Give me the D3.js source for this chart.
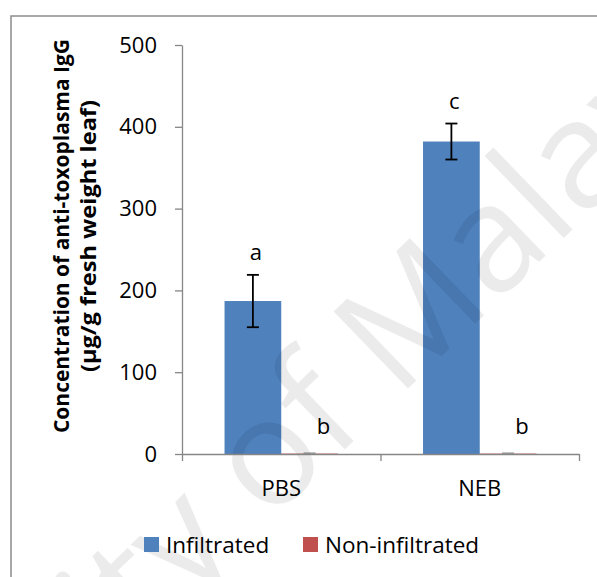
<!DOCTYPE html>
<html>
<head>
<meta charset="utf-8">
<script src="https://cdnjs.cloudflare.com/ajax/libs/d3/7.8.5/d3.min.js"></script>
<style>
  body { margin: 0; background: #fff; }
  svg { display: block; font-family: "Open Sans", sans-serif; }
</style>
</head>
<body>
<div id="chart"></div>
<script>
const categories = ["PBS", "NEB"];
const seriesNames = ["Infiltrated", "Non-infiltrated"];
const infiltrated = [187, 382];
const infiltratedErr = [32, 22];
const nonInfiltrated = [0.5, 0.5];
const nonInfiltratedErr = [0.3, 0.3];
const letters = [["a", "b"], ["c", "b"]];
const yTicks = [0, 100, 200, 300, 400, 500];
const colors = ["#4F81BD", "#C0504D"];

const width = 597, height = 577;
const plot = {left: 182, right: 579, top: 45, bottom: 454};

const svg = d3.select("#chart").append("svg")
    .attr("width", width)
    .attr("height", height);

// outer chart frame (right/bottom run off the picture)
svg.append("rect")
    .attr("x", 11).attr("y", 16)
    .attr("width", 640).attr("height", 640)
    .style("fill", "none")
    .style("stroke", "#8c8c8c")
    .style("stroke-width", 1.5);

const y = d3.scaleLinear().domain([0, 500]).range([plot.bottom, plot.top]);
const x0 = d3.scaleBand().domain(categories).range([plot.left, plot.right]);
const barW = x0.bandwidth() / 3.5;   // excel gap width 150%
const x1 = d3.scaleBand().domain(seriesNames)
    .range([(x0.bandwidth() - 2 * barW) / 2, (x0.bandwidth() + 2 * barW) / 2]);

const rows = categories.map((c, i) => ({
    cat: c,
    vals: [
        {s: seriesNames[0], v: infiltrated[i], e: infiltratedErr[i], l: letters[i][0]},
        {s: seriesNames[1], v: nonInfiltrated[i], e: nonInfiltratedErr[i], l: letters[i][1]}
    ]
}));

// watermark (under the marks' outlines but over the bars, like the scan)
const drawWatermark = () => svg.append("text")
    .attr("transform", "translate(247,544) rotate(-44)")
    .attr("text-anchor", "middle")
    .style("font-size", "150px")
    .style("fill", "#000")
    .style("opacity", 0.075)
    .text("University of Malaya");

// y axis
const yAxis = svg.append("g")
    .attr("transform", `translate(${plot.left},0)`)
    .call(d3.axisLeft(y).tickValues(yTicks).tickSize(7).tickSizeOuter(0).tickPadding(18));
yAxis.selectAll("path, line").style("stroke", "#868686").style("stroke-width", 1.3);
yAxis.selectAll("text").style("font-size", "22px").style("fill", "#000")
    .style("font-family", "Open Sans");

// bars
const groups = svg.append("g").selectAll("g")
    .data(rows).enter().append("g")
    .attr("transform", d => `translate(${x0(d.cat)},0)`);

groups.selectAll("rect")
    .data(d => d.vals).enter().append("rect")
    .attr("x", d => x1(d.s))
    .attr("y", d => y(d.v))
    .attr("width", x1.bandwidth())
    .attr("height", d => y(0) - y(d.v))
    .style("fill", (d, i) => colors[i]);

drawWatermark();

// x axis line + boundary ticks
const xb = d3.scaleLinear().domain([0, categories.length]).range([plot.left, plot.right]);
const xAxis = svg.append("g")
    .attr("transform", `translate(0,${plot.bottom})`)
    .call(d3.axisBottom(xb).tickValues(d3.range(categories.length + 1)).tickFormat("").tickSize(7).tickSizeOuter(0));
xAxis.selectAll("path, line").style("stroke", "#868686").style("stroke-width", 1.3);

const xLabels = svg.append("g")
    .attr("transform", `translate(0,${plot.bottom})`)
    .call(d3.axisBottom(x0).tickSize(0).tickPadding(26));
xLabels.select(".domain").remove();
xLabels.selectAll("text").style("font-size", "22px").style("fill", "#000")
    .style("font-family", "Open Sans");

// error bars
const capW = 6;
const eb = groups.selectAll("g.err")
    .data(d => d.vals).enter().append("g")
    .attr("class", "err")
    .style("stroke", (d, i) => i === 0 ? "#000" : "#999")
    .style("stroke-width", 1.8);
eb.append("line")
    .attr("x1", d => x1(d.s) + x1.bandwidth() / 2)
    .attr("x2", d => x1(d.s) + x1.bandwidth() / 2)
    .attr("y1", d => y(d.v + d.e))
    .attr("y2", d => y(d.v - d.e));
eb.append("line")
    .attr("x1", d => x1(d.s) + x1.bandwidth() / 2 - capW)
    .attr("x2", d => x1(d.s) + x1.bandwidth() / 2 + capW)
    .attr("y1", d => y(d.v + d.e)).attr("y2", d => y(d.v + d.e));
eb.append("line")
    .attr("x1", d => x1(d.s) + x1.bandwidth() / 2 - capW)
    .attr("x2", d => x1(d.s) + x1.bandwidth() / 2 + capW)
    .attr("y1", d => y(d.v - d.e)).attr("y2", d => y(d.v - d.e));

// significance letters
groups.selectAll("text.sig")
    .data(d => d.vals).enter().append("text")
    .attr("class", "sig")
    .attr("x", (d, i) => x1(d.s) + x1.bandwidth() / 2 + (i === 0 ? 3 : 14))
    .attr("y", (d, i) => y(d.v + d.e) - (i === 0 ? 15 : 19))
    .attr("text-anchor", "middle")
    .style("font-size", "22px")
    .text(d => d.l);

// y title
const yTitle = svg.append("text")
    .attr("transform", "translate(69,236) rotate(-90)")
    .attr("text-anchor", "middle")
    .style("font-weight", "bold")
    .style("font-size", "20.5px");
yTitle.append("tspan").attr("x", 0).attr("y", 0)
    .attr("textLength", 394).attr("lengthAdjust", "spacingAndGlyphs")
    .text("Concentration of anti-toxoplasma IgG");
yTitle.append("tspan").attr("x", 0).attr("y", 27)
    .attr("textLength", 272).attr("lengthAdjust", "spacingAndGlyphs")
    .text("(µg/g fresh weight leaf)");

// legend
const legend = svg.append("g").selectAll("g")
    .data(seriesNames).enter().append("g")
    .attr("transform", (d, i) => `translate(${[144, 303][i]},537)`);
legend.append("rect")
    .attr("width", 15).attr("height", 15)
    .style("fill", (d, i) => colors[i]);
legend.append("text")
    .attr("x", 22).attr("y", 16)
    .style("font-size", "22.5px")
    .text(d => d);
</script>
</body>
</html>
